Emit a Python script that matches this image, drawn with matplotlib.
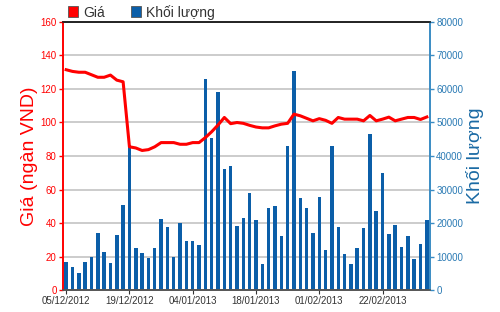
import numpy as np
import matplotlib
matplotlib.use("Agg")
import matplotlib.pyplot as plt
from matplotlib.patches import Patch

plt.rcParams["font.family"] = ["Liberation Sans", "DejaVu Sans"]

# ── Data ─────────────────────────────────────────────────────────────────────
price = [131.5, 130.5, 130.0, 130.0, 128.5, 127.0, 127.0, 128.3, 125.3, 124.3,
         85.5, 84.8, 83.3, 83.8, 85.5, 88.0, 88.0, 88.0, 87.0, 87.0,
         88.0, 88.0, 91.0, 94.5, 98.5, 103.0, 99.3, 100.0, 99.5, 98.3,
         97.3, 96.8, 96.8, 98.0, 99.0, 99.5, 105.0, 104.0, 102.5, 101.0,
         102.3, 101.3, 99.5, 103.0, 102.0, 102.0, 102.0, 101.0, 104.2, 101.0,
         102.0, 103.2, 101.0, 102.0, 103.0, 103.0, 101.8, 103.3]

volume = [8300, 6800, 5000, 8300, 10000, 17100, 11300, 8100, 16500, 25500,
          43200, 12600, 11000, 9500, 12600, 21200, 18900, 9900, 19900, 14700,
          14700, 13300, 63000, 45400, 59200, 36100, 37100, 19100, 21400, 29100,
          20800, 7700, 24600, 25000, 16000, 43000, 65500, 27500, 24600, 16900,
          27900, 11900, 43000, 18900, 10600, 7700, 12600, 18500, 46600, 23700,
          35000, 16600, 19500, 12800, 16000, 9400, 13800, 20800]

tick_labels = ["05/12/2012", "19/12/2012", "04/01/2013",
               "18/01/2013", "01/02/2013", "22/02/2013"]
TICK_STEP = 10   # one label every 10 sessions

RED  = "#ff0000"
BLUE = "#0b5ea8"
AX_BLUE = "#3a8cc4"

x = np.arange(len(price))

# ── Figure ───────────────────────────────────────────────────────────────────
fig = plt.figure(figsize=(5, 3.12), dpi=100, facecolor="white")
ax = fig.add_axes([0.126, 0.0705, 0.734, 0.859])
ax2 = ax.twinx()

# volume bars on the right axis
ax2.bar(x, volume, width=0.55, color=BLUE, zorder=2)
ax2.set_ylim(0, 80000)
ax2.set_yticks(np.arange(0, 80001, 10000))
ax2.yaxis.grid(True, color="#cccccc", lw=1.4, zorder=0)
ax2.set_axisbelow(True)
ax2.tick_params(axis="y", colors=AX_BLUE, labelsize=7, length=3, width=1,
                labelcolor="#2a7ab4", pad=1.5)
ax2.set_ylabel("Khối lượng", color="#1a6aa4", fontsize=14, rotation=90,
               labelpad=2)

# price line on the left axis, drawn above bars
ax.set_zorder(ax2.get_zorder() + 1)
ax.patch.set_visible(False)
ax.plot(x, price, color=RED, lw=2.2, solid_joinstyle="round")
ax.set_ylim(0, 160)
ax.set_yticks(np.arange(0, 161, 20))
ax.tick_params(axis="y", colors=RED, labelsize=7, length=3, width=1, pad=1.5)
ax.set_ylabel("Giá (ngàn VND)", color=RED, fontsize=14, labelpad=2)

ax.set_xlim(-0.5, len(price) - 0.5)
ax.set_xticks(np.arange(0, len(price), TICK_STEP)[:len(tick_labels)])
ax.set_xticklabels(tick_labels)
ax.tick_params(axis="x", colors="#333333", labelsize=7, length=3, pad=1.5)

for a in (ax, ax2):
    a.spines["left"].set_color(RED)
    a.spines["right"].set_color(AX_BLUE)
    a.spines["top"].set_color("#222222")
    a.spines["bottom"].set_color("#555555")
    for s in a.spines.values():
        s.set_linewidth(1.2)

# legend across the top
handles = [Patch(facecolor=RED, edgecolor="#555555", lw=0.6, label="Giá"),
           Patch(facecolor=BLUE, edgecolor="#555555", lw=0.6, label="Khối lượng")]
fig.legend(handles=handles, loc="upper left", bbox_to_anchor=(0.11, 1.025),
           ncol=2, frameon=False, fontsize=10, handlelength=0.75,
           handleheight=0.85, handletextpad=0.35, columnspacing=1.9,
           labelcolor="#333333")

fig.savefig("out.png", dpi=100, facecolor="white")
